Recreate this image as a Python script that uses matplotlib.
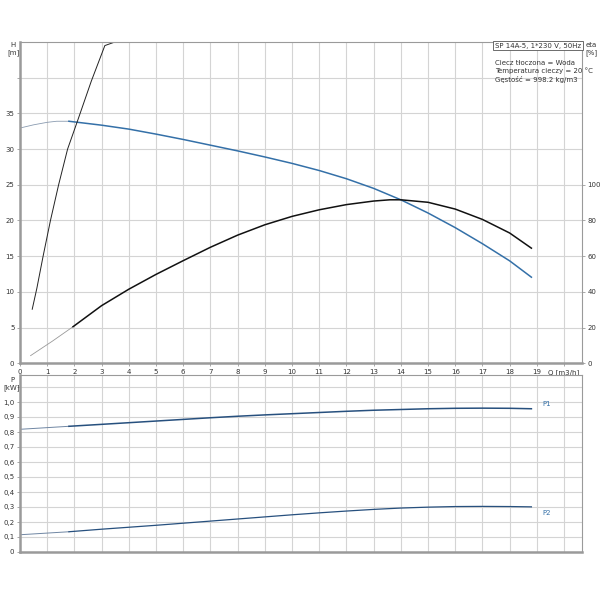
import matplotlib
matplotlib.use("Agg")
import matplotlib.pyplot as plt
import numpy as np

# pump curve H (m), thin part before the duty range and the thick part
q_h_thin = [0.0, 0.5, 1.0, 1.35, 1.8]
h_thin = [32.95, 33.4, 33.75, 33.9, 33.9]
q_h = [1.8, 3, 4, 5, 6, 7, 8, 9, 10, 11, 12, 13, 14, 15, 16, 17, 18, 18.8]
h_vals = [33.9, 33.35, 32.8, 32.1, 31.35, 30.55, 29.75, 28.9, 28.0, 27.0,
          25.85, 24.5, 22.9, 21.05, 19.0, 16.75, 14.35, 12.06]

# efficiency eta (%)
q_eta_thin = [0.39, 1.2, 1.95]
eta_thin = [4.3, 12.5, 20.5]
q_eta = [1.95, 3, 4, 5, 6, 7, 8, 9, 10, 11, 12, 13, 13.6, 14, 15, 16, 17, 18, 18.8]
eta_vals = [20.5, 32.3, 41.5, 49.8, 57.5, 65.0, 71.8, 77.6, 82.3, 86.0,
            88.9, 90.9, 91.6, 91.6, 90.2, 86.4, 80.6, 73.0, 64.5]

# steep black curve
q_steep = [0.45, 0.62, 0.85, 1.12, 1.42, 1.75, 2.12, 2.62, 3.12, 3.49, 18.8]
h_steep = [7.57, 10.5, 15.0, 20.0, 25.0, 30.0, 34.0, 39.5, 44.5, 45.0, 45.0]

# power curves (kW)
q_p_thin = [0.0, 1.8]
p1_thin = [0.818, 0.838]
p2_thin = [0.115, 0.135]
q_p = [1.8, 3, 4, 5, 6, 7, 8, 9, 10, 11, 12, 13, 14, 15, 16, 17, 18, 18.8]
p1_vals = [0.838, 0.851, 0.862, 0.873, 0.884, 0.895, 0.905, 0.914, 0.922,
           0.930, 0.938, 0.945, 0.950, 0.955, 0.958, 0.959, 0.958, 0.955]
p2_vals = [0.135, 0.152, 0.165, 0.178, 0.192, 0.206, 0.220, 0.234, 0.248,
           0.261, 0.273, 0.284, 0.293, 0.299, 0.303, 0.304, 0.303, 0.301]

q_ticks = list(range(0, 21))
q_labels = [str(i) for i in range(20)] + ["Q [m3/h]"]
h_ticks = list(range(0, 45, 5))
h_labels = [str(i) for i in range(0, 40, 5)] + [""]
eta_ticks = list(range(0, 120, 20))
p_ticks = [i / 10 for i in range(12)]
p_labels = [f"{i / 10:.1f}".replace(".", ",") if i > 0 else "0" for i in range(11)] + [""]

plt.rcParams['font.family'] = ['DejaVu Sans']
fs = 5.0
grid_c = "#d4d4d4"
spine_c = "#9a9a9a"
blue = "#3470a8"
pblue = "#27507e"

fig = plt.figure(figsize=(6, 6), dpi=100)
ax = fig.add_axes([0.0333, 0.3945, 0.9367, 0.5355])
ax2 = ax.twinx()
axp = fig.add_axes([0.0333, 0.08, 0.9367, 0.295])

XMAX = 20.66
for a in (ax, axp):
    a.set_xlim(0, XMAX)
    a.set_xticks(q_ticks)
    a.grid(True, color=grid_c, linewidth=0.8)
    a.set_axisbelow(True)
    for s in a.spines.values():
        s.set_color(spine_c)
        s.set_linewidth(0.8)
    a.spines['left'].set_linewidth(1.8)
    a.spines['bottom'].set_linewidth(1.8)
    a.tick_params(colors="#333333", labelsize=fs, length=2.5, width=0.6,
                  pad=1.5, color=spine_c)

ax.set_ylim(0, 45)
ax.set_yticks(h_ticks)
ax.set_yticklabels(h_labels)
ax.set_xticklabels(q_labels)
ax2.set_ylim(0, 180)
ax2.set_yticks(eta_ticks)
ax2.tick_params(labelsize=fs, length=2.5, width=0.6, pad=1.5, color=spine_c,
                colors="#333333")
for s in ax2.spines.values():
    s.set_visible(False)

ax.plot(q_h_thin, h_thin, color="#8a9bb0", linewidth=0.6)
ax.plot(q_h, h_vals, color=blue, linewidth=1.1)
ax.plot(q_steep, h_steep, color="#222222", linewidth=0.7)
ax2.plot(q_eta_thin, eta_thin, color="#999999", linewidth=0.6)
ax2.plot(q_eta, eta_vals, color="#111111", linewidth=1.1)

fig.text(0.022, 0.93, "H\n[m]", fontsize=fs, ha="center", va="top",
         linespacing=1.3, color="#333333")
fig.text(0.985, 0.93, "eta\n[%]", fontsize=fs, ha="center", va="top",
         linespacing=1.3, color="#333333")

ax.text(0.9985, 0.998, "SP 14A-5, 1*230 V, 50Hz", transform=ax.transAxes,
        fontsize=fs, ha="right", va="top", color="#333333",
        bbox=dict(boxstyle="square,pad=0.25", fc="white", ec="#555555", lw=0.6))
ax.text(0.846, 0.945, "Ciecz tłoczona = Woda\nTemperatura cieczy = 20 °C\n"
        "Gęstość = 998.2 kg/m3", transform=ax.transAxes, fontsize=fs,
        ha="left", va="top", linespacing=1.35, color="#333333")

axp.set_ylim(0, 1.18)
axp.set_yticks(p_ticks)
axp.set_yticklabels(p_labels)
axp.tick_params(axis="x", labelbottom=False, length=0)
axp.plot(q_p_thin, p1_thin, color="#6f86a3", linewidth=0.7)
axp.plot(q_p, p1_vals, color=pblue, linewidth=1.1)
axp.plot(q_p_thin, p2_thin, color="#6f86a3", linewidth=0.7)
axp.plot(q_p, p2_vals, color=pblue, linewidth=0.9)
axp.text(19.2, p1_vals[-1] + 0.01, "P1", fontsize=fs, color=blue, va="bottom")
axp.text(19.2, p2_vals[-1] - 0.02, "P2", fontsize=fs, color=blue, va="top")
fig.text(0.02, 0.372, "P\n[kW]", fontsize=fs, ha="center", va="top",
         linespacing=1.3, color="#333333")

fig.savefig("out.png", dpi=100)
